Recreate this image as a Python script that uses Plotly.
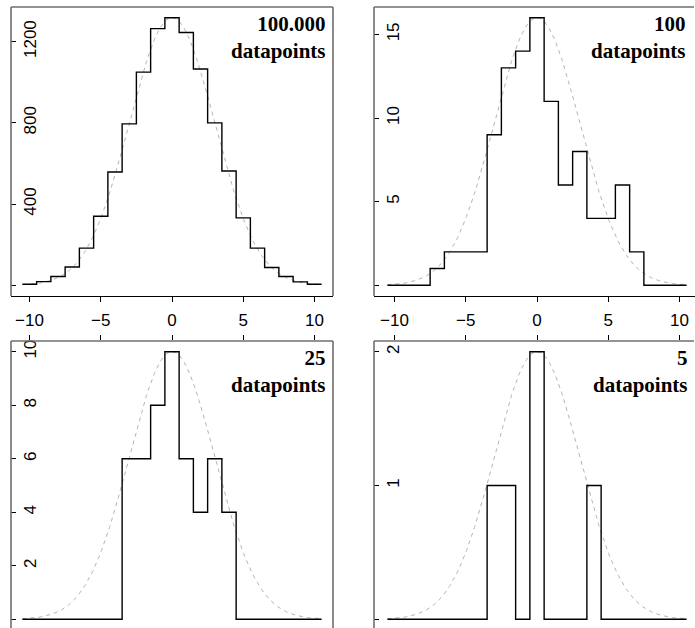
import numpy as np
import plotly.graph_objects as go

# ---------------- data ----------------
bin_centers = list(range(-10, 11))
counts_100000 = [5, 18, 43, 90, 183, 340, 558, 795, 1050, 1264, 1318,
                 1245, 1065, 800, 563, 332, 183, 88, 43, 17, 5]
counts_100 = [0, 0, 0, 1, 2, 2, 2, 9, 13, 14, 16, 11, 6, 8, 4, 4, 6, 2, 0, 0, 0]
counts_25 = [0, 0, 0, 0, 0, 0, 0, 6, 6, 8, 10, 6, 4, 6, 4, 0, 0, 0, 0, 0, 0]
counts_5 = [0, 0, 0, 0, 0, 0, 0, 1, 1, 0, 2, 0, 0, 0, 1, 0, 0, 0, 0, 0, 0]
panel_labels = ["100.000", "100", "25", "5"]
x_tickvals = [-10, -5, 0, 5, 10]
y_tickvals_100000 = [0, 400, 800, 1200]
y_tickvals_100 = [0, 5, 10, 15]
y_tickvals_25 = [0, 2, 4, 6, 8, 10]
y_tickvals_5 = [0, 1, 2]
curve_sd = 3.0  # sd of the reference normal curve

# ---------------- layout constants (pixels) ----------------
W, H = 695, 628
BIN_W = 1.0
PPU_X = 14.25  # pixels per x unit


def fx(p):
    return p / W


def fy(p):
    return 1 - p / H


panels = [
    dict(counts=counts_100000, yt=y_tickvals_100000, label=panel_labels[0],
         xl=11, xr=333, yt_px=7, yb_px=296, zero_px=296, x0_px=172, txt_x=328, top=True),
    dict(counts=counts_100, yt=y_tickvals_100, label=panel_labels[1],
         xl=374, xr=695, yt_px=7, yb_px=296, zero_px=296, x0_px=537, txt_x=688, top=True),
    dict(counts=counts_25, yt=y_tickvals_25, label=panel_labels[2],
         xl=11, xr=333, yt_px=341, yb_px=628, zero_px=630, x0_px=172, txt_x=328, top=False),
    dict(counts=counts_5, yt=y_tickvals_5, label=panel_labels[3],
         xl=374, xr=695, yt_px=341, yb_px=628, zero_px=630, x0_px=537, txt_x=690, top=False),
]

fig = go.Figure()
shapes = []
annotations = []
layout_axes = {}
TICKFONT = dict(family="Liberation Sans, Arial, sans-serif", size=17, color="black")
BOX = dict(color="#6f6f6f", width=1.6)

for i, p in enumerate(panels):
    n = i + 1
    xa = "x" if n == 1 else f"x{n}"
    ya = "y" if n == 1 else f"y{n}"
    xkey = "xaxis" if n == 1 else f"xaxis{n}"
    ykey = "yaxis" if n == 1 else f"yaxis{n}"
    counts = p["counts"]
    M = max(counts)

    # step outline
    edges = [c - BIN_W / 2 for c in bin_centers] + [bin_centers[-1] + BIN_W / 2]
    steps = list(counts) + [counts[-1]]
    # reference normal curve
    cx = np.linspace(edges[0], edges[-1], 300)
    cy = M * np.exp(-cx ** 2 / (2 * curve_sd ** 2))
    fig.add_trace(go.Scatter(x=cx, y=cy, mode="lines", xaxis=xa, yaxis=ya,
                             line=dict(color="#b4b4b4", width=1, dash="4px,4px"),
                             showlegend=False, hoverinfo="skip"))
    fig.add_trace(go.Scatter(x=edges, y=steps, mode="lines", line_shape="hv",
                             xaxis=xa, yaxis=ya,
                             line=dict(color="black", width=1.4), showlegend=False))

    # ranges from pixel geometry
    xr0 = (p["xl"] - p["x0_px"]) / PPU_X
    xr1 = (p["xr"] - p["x0_px"]) / PPU_X
    ytop = 1.04 * M
    ybot_full = -0.04 * M
    ppu_y = (p["zero_px"] - p["yt_px"]) / (ytop - ybot_full)
    ybot = ytop - (p["yb_px"] - p["yt_px"]) / ppu_y

    xaxis = dict(domain=[fx(p["xl"]), fx(p["xr"])], range=[xr0, xr1], anchor=ya,
                 showgrid=False, zeroline=False, tickvals=x_tickvals,
                 ticks="outside", ticklen=5, tickwidth=1, tickcolor="black",
                 tickfont=TICKFONT)
    if p["top"]:
        xaxis.update(side="bottom", showline=True, linecolor="black", linewidth=1,
                     showticklabels=True, ticklabelstandoff=4)
    else:
        xaxis.update(side="top", showline=False, showticklabels=False)
    layout_axes[xkey] = xaxis

    yaxis = dict(domain=[fy(p["yb_px"]), fy(p["yt_px"])], range=[ybot, ytop], anchor=xa,
                 showgrid=False, zeroline=False, showline=False,
                 tickvals=p["yt"], ticktext=[""] + [str(v) for v in p["yt"][1:]],
                 ticks="inside", ticklen=5, tickwidth=1, tickcolor="black",
                 ticklabelposition="outside", ticklabelstandoff=-29,
                 tickangle=-90, tickfont=TICKFONT)
    layout_axes[ykey] = yaxis

    # box lines (paper coordinates)
    def seg(x0, y0, x1, y1):
        shapes.append(dict(type="line", xref="paper", yref="paper",
                           x0=fx(x0), y0=fy(y0), x1=fx(x1), y1=fy(y1), line=BOX))

    seg(p["xl"], p["yt_px"], min(p["xr"], 694), p["yt_px"])
    seg(p["xl"], p["yt_px"], p["xl"], p["yb_px"])
    if p["xr"] < W:
        seg(p["xr"], p["yt_px"], p["xr"], p["yb_px"])

    annotations.append(dict(
        xref="paper", yref="paper", x=fx(p["txt_x"]), y=fy(p["yt_px"] + 3),
        xanchor="right", yanchor="top", align="right", showarrow=False,
        text=f"<b>{p['label']}</b><br><b>datapoints</b>",
        font=dict(family="Liberation Serif, Times New Roman, serif", size=21, color="black")))

fig.update_layout(width=W, height=H, margin=dict(l=0, r=0, t=0, b=0),
                  paper_bgcolor="white", plot_bgcolor="white", hovermode=False,
                  shapes=shapes, annotations=annotations, **layout_axes)

fig.write_html("out.html", config={"displayModeBar": False, "staticPlot": True},
               post_script="document.body.style.margin='0';document.body.style.overflow='hidden';")
